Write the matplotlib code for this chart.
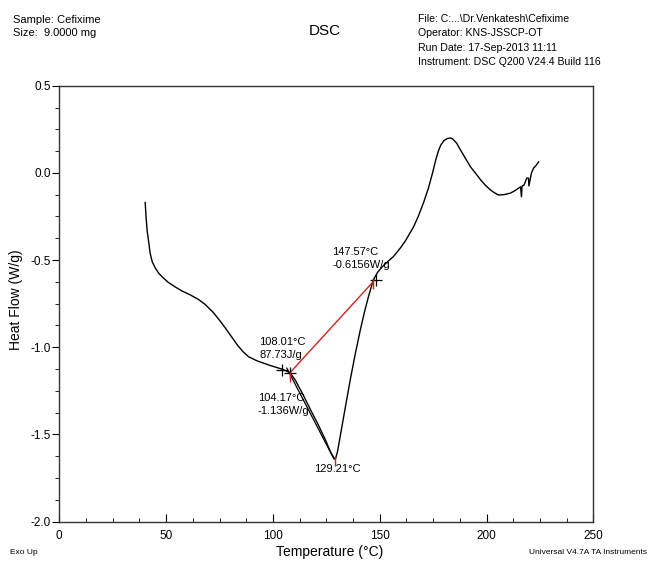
import matplotlib
matplotlib.use('Agg')
import matplotlib.pyplot as plt
from matplotlib.ticker import MultipleLocator

plt.rcParams['font.family'] = ['Liberation Sans Narrow', 'Liberation Sans', 'DejaVu Sans']

# DSC trace (temperature in C, heat flow in W/g)
temp = [40.2, 40.6, 41.1, 42.0, 42.5, 43.5, 44.9, 46.5, 48.1, 51.0, 54.2, 57.5, 61.3,
        65.0, 68.3, 72.0, 75.3, 78.0, 80.9, 83.5, 86.1, 88.6, 92.5, 98.7, 104.3,
        108.0, 110.5, 114.0, 117.5, 121.0, 124.5, 126.9, 128.3, 129.2, 130.2, 131.5,
        133.8, 136.2, 138.5, 140.9, 143.0, 144.7, 146.0, 147.0, 149.0, 151.2, 153.8,
        156.4, 159.7, 162.0, 165.8, 168.0, 170.5, 172.7, 174.7, 176.2, 177.5, 178.5,
        180.0, 181.6, 183.0, 184.0, 186.0, 187.8, 190.0, 192.5, 195.0, 197.2, 199.5,
        201.8, 203.8, 205.6, 208.0, 211.2, 213.5, 215.9, 216.3, 216.6, 217.5, 218.8,
        219.6, 219.8, 221.0, 222.0, 223.0, 224.3]
heat = [-0.17, -0.25, -0.33, -0.41, -0.46, -0.51, -0.545, -0.575, -0.596, -0.628, -0.654,
        -0.678, -0.70, -0.725, -0.755, -0.80, -0.85, -0.895, -0.945, -0.99, -1.027, -1.055,
        -1.078, -1.105, -1.126, -1.146, -1.19, -1.27, -1.357, -1.44, -1.53, -1.60,
        -1.63, -1.644, -1.60, -1.51, -1.35, -1.186, -1.04, -0.90, -0.79, -0.71, -0.655,
        -0.613, -0.57, -0.538, -0.508, -0.48, -0.43, -0.39, -0.31, -0.25, -0.17, -0.09,
        0.0, 0.075, 0.128, 0.158, 0.185, 0.197, 0.20, 0.196, 0.17, 0.131, 0.085, 0.034,
        -0.005, -0.04, -0.072, -0.098, -0.115, -0.127, -0.125, -0.116, -0.10, -0.08,
        -0.137, -0.075, -0.07, -0.03, -0.03, -0.075, 0.0, 0.028, 0.04, 0.063]

# analysis marks
base_t = [108.01, 147.57]
base_h = [-1.146, -0.6156]
tang_t = [106.5, 128.5]
tang_h = [-1.12, -1.64]
cross_t = [104.17, 108.01, 148.4]
cross_h = [-1.13, -1.146, -0.613]
redtick_t = [108.01, 129.21, 147.0]
redtick_h = [-1.17, -1.655, -0.64]

fig = plt.figure(figsize=(6.5, 5.61), dpi=100)
ax = fig.add_axes([0.0912, 0.0704, 0.8218, 0.7768])

ax.plot(temp, heat, color='black', lw=1.0)
ax.plot(tang_t, tang_h, color='black', lw=0.9)
ax.plot(base_t, base_h, color='#d42020', lw=1.0)
ax.plot(cross_t, cross_h, ls='none', marker='+', ms=9, mew=0.9, color='black')
ax.plot(redtick_t, redtick_h, ls='none', marker='|', ms=7, mew=1.0, color='#d42020')

fs = 8
ax.text(127.8, -0.49, '147.57°C\n-0.6156W/g', fontsize=fs, va='center', ha='left', linespacing=1.4)
ax.text(93.6, -1.008, '108.01°C\n87.73J/g', fontsize=fs, va='center', ha='left', linespacing=1.4)
ax.text(93.0, -1.329, '104.17°C\n-1.136W/g', fontsize=fs, va='center', ha='left', linespacing=1.4)
ax.text(130.2, -1.70, '129.21°C', fontsize=fs, va='center', ha='center')

ax.set_xlim(0, 250)
ax.set_ylim(-2.0, 0.5)
ax.set_xticks([0, 50, 100, 150, 200, 250])
ax.set_yticks([-2.0, -1.5, -1.0, -0.5, 0.0, 0.5])
ax.set_yticklabels(['-2.0', '-1.5', '-1.0', '-0.5', '0.0', '0.5'])
ax.xaxis.set_minor_locator(MultipleLocator(12.5))
ax.yaxis.set_minor_locator(MultipleLocator(0.125))
ax.tick_params(axis='x', which='both', direction='in', labelsize=8.5, pad=6)
ax.tick_params(axis='x', which='major', length=6)
ax.tick_params(axis='x', which='minor', length=3)
ax.tick_params(axis='y', which='both', direction='out', labelsize=8.5, pad=1)
ax.tick_params(axis='y', which='major', length=5)
ax.tick_params(axis='y', which='minor', length=3)
for s in ax.spines.values():
    s.set_color('#333333')
    s.set_linewidth(1.0)

fig.text(330 / 650, 1 - 552 / 561, 'Temperature (°C)', fontsize=10, ha='center', va='center')
fig.text(16 / 650, 1 - 300 / 561, 'Heat Flow (W/g)', fontsize=10, ha='center', va='center',
         rotation=90)

fig.text(0.02, 1 - 26.5 / 561, 'Sample: Cefixime\nSize:  9.0000 mg', fontsize=8, va='center',
         linespacing=1.4)
fig.text(0.5, 0.945, 'DSC', fontsize=11, ha='center', va='center')
fig.text(0.643, 1 - 40.5 / 561, 'File: C:...\\Dr.Venkatesh\\Cefixime\nOperator: KNS-JSSCP-OT\n'
         'Run Date: 17-Sep-2013 11:11\nInstrument: DSC Q200 V24.4 Build 116',
         fontsize=7.6, va='center', linespacing=1.55)
fig.text(0.015, 0.016, 'Exo Up', fontsize=6, va='center')
fig.text(0.995, 0.016, 'Universal V4.7A TA Instruments', fontsize=6, va='center', ha='right')

fig.savefig('out.png', dpi=100, facecolor='white')
